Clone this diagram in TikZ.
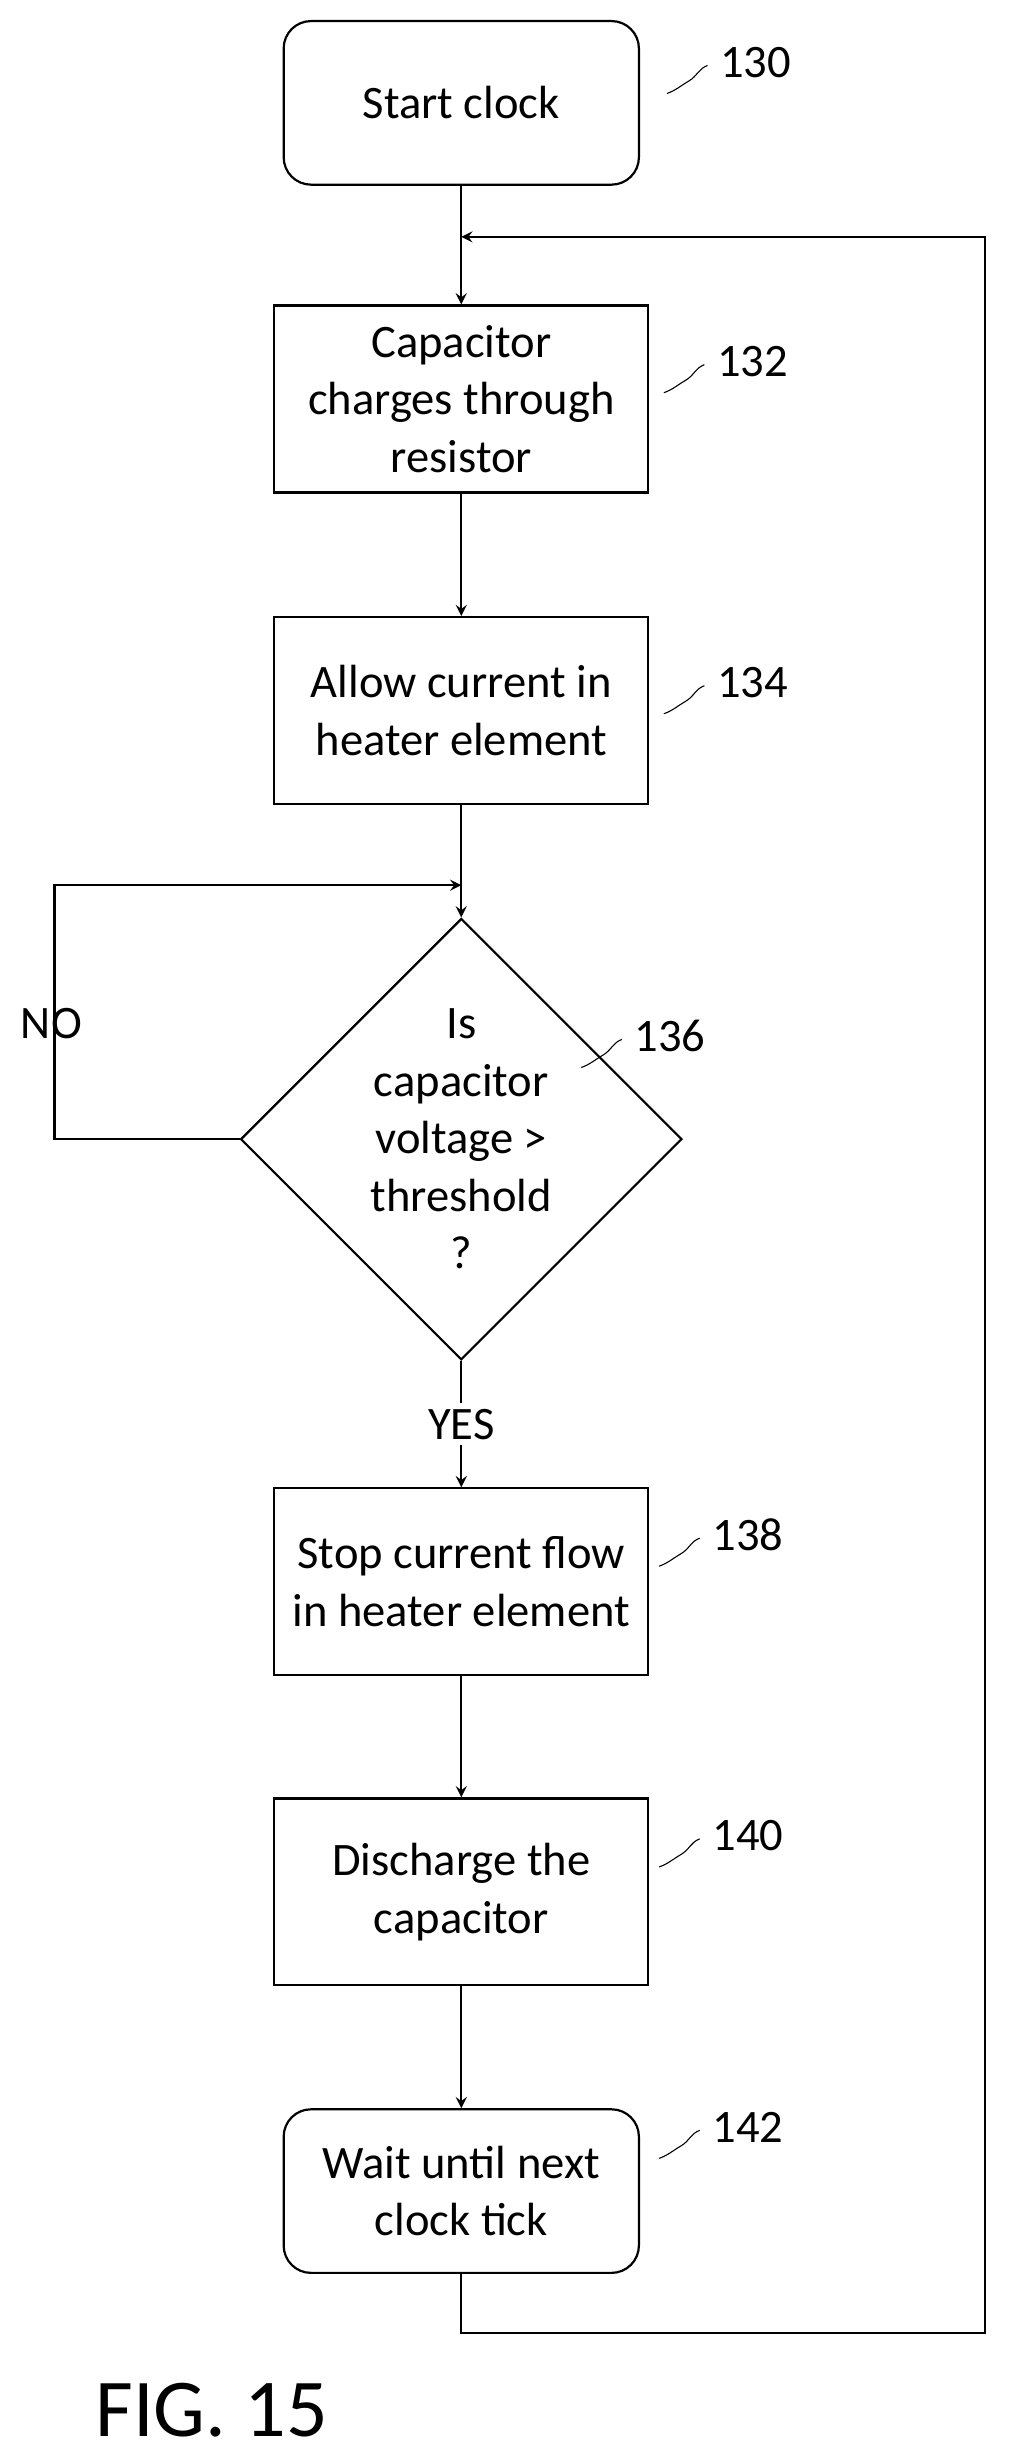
\documentclass[tikz,border=0pt]{standalone}
\usepackage{fontspec}
\setmainfont{Carlito}
\usetikzlibrary{shapes.geometric,arrows,positioning,calc}
\begin{document}
\begin{tikzpicture}[x=0.02cm, y=-0.02cm,
    font=\fontsize{17}{21}\selectfont,
    box/.style={rectangle, draw, thick, minimum width=4.8cm, minimum height=2.4cm, align=center},
    term/.style={rectangle, rounded corners=10pt, draw, thick, minimum width=4.56cm, minimum height=2.1cm, align=center},
    test/.style={diamond, draw, thick, minimum width=5.04cm, minimum height=4.58cm, align=center, inner sep=0pt},
    arrow/.style={->, >=stealth, thick},
    ref/.style={font=\fontsize{17}{21}\selectfont}]

    \useasboundingbox (0,0) rectangle (650,1576);

    \node[term] (start) at (296,66) {Start clock};
    \node[box] (charge) at (296,256) {Capacitor\\charges through\\resistor};
    \node[box] (allow) at (296,456) {Allow current in\\heater element};
    \node[test] (check) at (296,731) {Is\\capacitor\\voltage >\\threshold\\?};
    \node[box] (stop) at (296,1015) {Stop current flow\\in heater element};
    \node[box] (dis) at (296,1214) {Discharge the\\capacitor};
    \node[term] (wait) at (296,1406) {Wait until next\\clock tick};

    \coordinate (top) at (296,152);
    \coordinate (nojoin) at (296,568);
    \coordinate (nocorner) at (35,731);
    \coordinate (back) at (632,1497);

    \draw[arrow] (start) -- (charge);
    \draw[arrow] (charge) -- (allow);
    \draw[arrow] (allow) -- (check);
    \draw[arrow] (check) -- node[fill=white, inner sep=2pt] (yes) {YES} (stop);
    \draw[arrow] (stop) -- (dis);
    \draw[arrow] (dis) -- (wait);
    \draw[arrow] (check.west) -- (nocorner) |- (nojoin);
    \draw[arrow] (wait) |- (back) |- (top);

    \node (no) at (33,657) {NO};
    \node[anchor=south west, font=\fontsize{30}{34}\selectfont] (fig) at (55,1570) {FIG. 15};

    % reference numerals
    \foreach \nm/\txt/\x/\y in {r130/130/480/40, r132/132/478/232, r134/134/478/438,
        r136/136/425/665, r138/138/475/985, r140/140/475/1178, r142/142/475/1365}{
      \node[ref, anchor=west] (\nm) at (\x-24,\y) {\txt};
      \draw ($(\nm.west)+(-2,2)$) to[out=200,in=30] ++(-12,10) to[out=210,in=20] ++(-14,8);
    }
\end{tikzpicture}
\end{document}
